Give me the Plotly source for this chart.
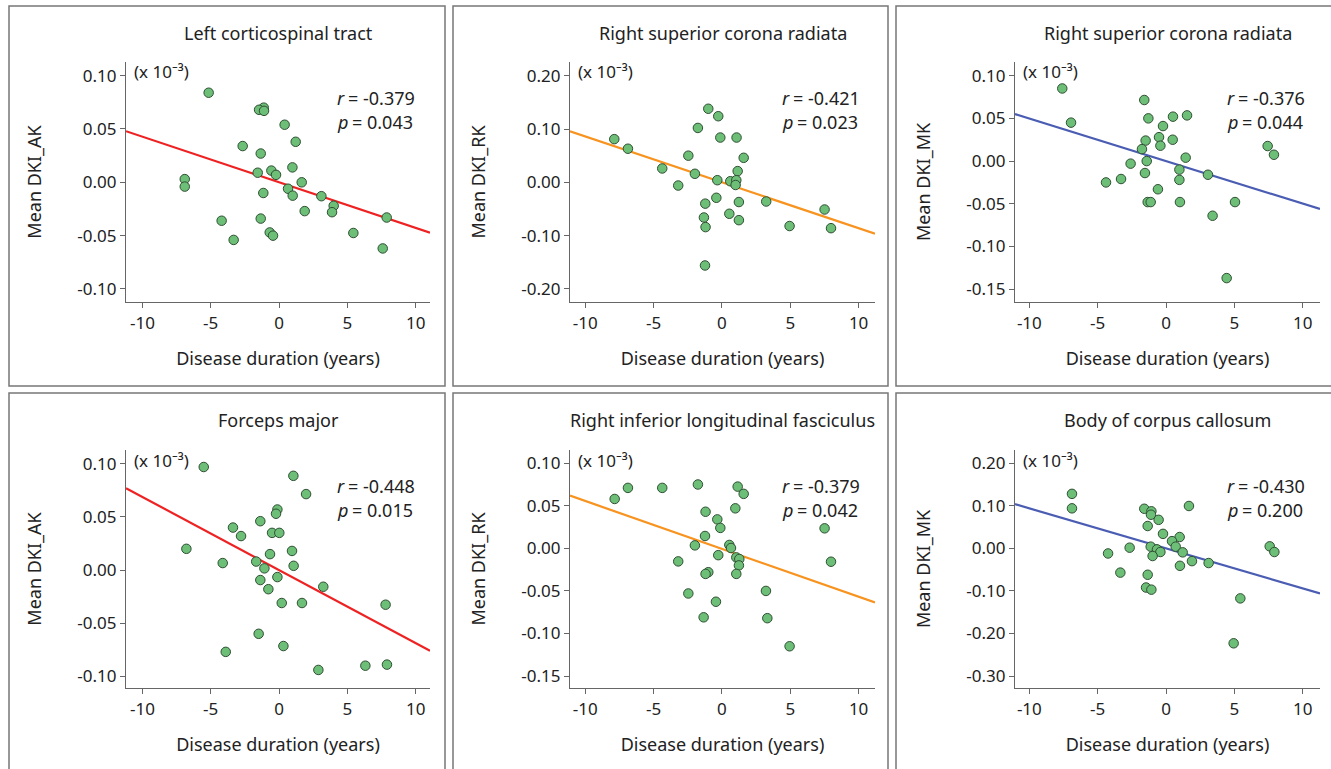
import plotly.graph_objects as go

W, H = 1331, 769

titles = ["Left corticospinal tract", "Right superior corona radiata", "Right superior corona radiata",
          "Forceps major", "Right inferior longitudinal fasciculus", "Body of corpus callosum"]
ylabels = ["Mean DKI_AK", "Mean DKI_RK", "Mean DKI_MK", "Mean DKI_AK", "Mean DKI_RK", "Mean DKI_MK"]
xlabel = "Disease duration (years)"
scale_label = "(x 10\u207b\u00b3)"
r_vals = ["-0.379", "-0.421", "-0.376", "-0.448", "-0.379", "-0.430"]
p_vals = ["0.043", "0.023", "0.044", "0.015", "0.042", "0.200"]

# Panel 1: Left corticospinal tract (AK)
x1 = [-5.15, -1.12, -1.46, -1.10, 0.41, 1.22, -2.66, -1.34, 0.98, -0.56, -1.56, -0.22, -6.9, -6.9, 1.66,
      -1.15, 0.66, 1.0, 3.1, 4.0, 3.88, 1.88, -4.2, -1.34, -0.68, -0.44, -3.32, 7.88, 5.44, 7.59]
y1 = [0.084, 0.070, 0.068, 0.067, 0.054, 0.038, 0.034, 0.027, 0.014, 0.011, 0.009, 0.007, 0.003, -0.004, 0.000,
      -0.010, -0.006, -0.0125, -0.013, -0.022, -0.028, -0.027, -0.036, -0.034, -0.047, -0.050, -0.054, -0.033, -0.0475, -0.062]

# Panel 2: Right superior corona radiata (RK)
x2 = [-7.88, -6.88, -1.0, -0.27, -1.76, -0.12, 1.07, -2.46, 1.59, -4.37, -1.98, 1.15, -0.34, 0.61, 1.05,
      1.0, -3.2, -0.41, -1.22, 1.24, 3.24, 0.54, -1.32, 1.24, -1.2, 4.95, 7.51, 7.98, -1.24]
y2 = [0.081, 0.063, 0.138, 0.124, 0.102, 0.084, 0.084, 0.050, 0.046, 0.026, 0.016, 0.021, 0.004, 0.002, 0.004,
      -0.005, -0.006, -0.029, -0.040, -0.037, -0.036, -0.059, -0.066, -0.071, -0.084, -0.082, -0.051, -0.086, -0.156]

# Panel 3: Right superior corona radiata (MK)
x3 = [-7.59, -6.95, -1.59, -1.29, 0.51, 1.54, -0.22, -0.51, 0.49, -1.49, -0.41, -1.76, -1.41, 1.44, -2.59,
      -1.54, 0.98, 3.07, 0.98, -3.29, -4.39, -0.59, -1.34, -1.12, 1.02, 5.05, 3.41, 7.44, 7.9, 4.44]
y3 = [0.085, 0.045, 0.0715, 0.050, 0.052, 0.0535, 0.041, 0.028, 0.025, 0.024, 0.018, 0.014, 0.000, 0.004, -0.003,
      -0.014, -0.010, -0.016, -0.022, -0.021, -0.025, -0.033, -0.048, -0.048, -0.048, -0.048, -0.064, 0.0176, 0.0074, -0.137]

# Panel 4: Forceps major (AK)
x4 = [-5.51, 1.05, 1.98, -0.12, -0.22, -1.37, -3.37, -2.78, -0.51, 0.02, -6.78, -0.66, 0.95, -4.12, -1.67,
      1.07, -1.07, -0.12, -1.37, -0.78, 3.24, 0.2, 1.68, 7.8, -1.49, -3.9, 0.32, 2.88, 6.32, 7.9]
y4 = [0.097, 0.0887, 0.0715, 0.057, 0.053, 0.046, 0.040, 0.032, 0.035, 0.035, 0.020, 0.015, 0.018, 0.0066, 0.008,
      0.004, 0.0016, -0.0066, -0.0094, -0.018, -0.0157, -0.031, -0.031, -0.0326, -0.060, -0.077, -0.0715, -0.094, -0.090, -0.089]

# Panel 5: Right inferior longitudinal fasciculus (RK)
x5 = [-7.85, -6.88, -4.37, -1.76, 1.15, 1.59, 0.98, -1.2, -0.34, -0.12, -1.24, -1.98, 0.54, 0.66, -0.27,
      -3.2, 1.05, 1.27, 1.24, -1.0, -1.2, 1.05, -2.46, -0.44, 3.22, -1.34, 3.32, 4.95, 7.51, 7.98]
y5 = [0.058, 0.071, 0.071, 0.075, 0.0725, 0.064, 0.047, 0.043, 0.034, 0.024, 0.0145, 0.0035, 0.004, 0.0004, -0.008,
      -0.0153, -0.0106, -0.0125, -0.020, -0.028, -0.030, -0.030, -0.053, -0.0627, -0.050, -0.081, -0.082, -0.115, 0.0235, -0.0157]

# Panel 6: Body of corpus callosum (MK)
x6 = [-6.88, -6.88, -1.59, -1.07, -1.1, -0.54, 1.68, -1.34, -0.22, 1.0, 0.44, 0.71, -2.66, -1.12, -0.66,
      -0.41, 1.22, -4.24, -0.98, 1.9, 3.12, 1.02, -3.34, -1.34, -1.46, -1.07, 5.44, 4.95, 7.59, 7.93]
y6 = [0.128, 0.094, 0.093, 0.087, 0.079, 0.067, 0.0995, 0.0525, 0.034, 0.0266, 0.017, 0.004, 0.0016, 0.004, -0.0024,
      -0.0086, -0.0094, -0.012, -0.018, -0.030, -0.0345, -0.041, -0.057, -0.062, -0.092, -0.097, -0.1175, -0.223, 0.0047, -0.0086]

xs = [x1, x2, x3, x4, x5, x6]
ys = [y1, y2, y3, y4, y5, y6]

# regression line coefficients (slope, intercept)
fit_slope = [-0.00428, -0.0086, -0.00498, -0.00688, -0.00562, -0.00939]
fit_icpt = [0.0, 0.0, 0.0, 0.0, -0.0006, 0.0]
line_colors = ["#ee2222", "#f7931e", "#4a5db3", "#ee2222", "#f7931e", "#4a5db3"]

y_ticks = [[0.10, 0.05, 0.00, -0.05, -0.10],
           [0.20, 0.10, 0.00, -0.10, -0.20],
           [0.10, 0.05, 0.00, -0.05, -0.10, -0.15],
           [0.10, 0.05, 0.00, -0.05, -0.10],
           [0.10, 0.05, 0.00, -0.05, -0.10, -0.15],
           [0.20, 0.10, 0.00, -0.10, -0.20, -0.30]]
y_ranges = [[-0.1122, 0.1128], [-0.2245, 0.2257], [-0.165, 0.116],
            [-0.111, 0.113], [-0.164, 0.1155], [-0.328, 0.231]]
x_ranges = [[-11.2, 11.05], [-11.12, 11.2], [-11.05, 11.27]]
x_ticks = [-10, -5, 0, 5, 10]

# layout geometry in pixels
col_px = [(126, 430), (570, 875), (1015, 1320)]
row_px = [(62, 302), (450, 688)]
box_x = [(9, 445), (453, 888), (896, 1345)]
box_y = [(6, 386), (393, 780)]
title_y = [33, 420]

FONT = "Noto Sans"
TXT = "#222222"
AX = "#666666"

fig = go.Figure()
layout = dict(width=W, height=H, margin=dict(l=0, r=0, t=0, b=0), paper_bgcolor="white",
              plot_bgcolor="white", showlegend=False, font=dict(family=FONT, size=17, color=TXT))
annotations = []
shapes = []


def ann(text, xpx, ypx, xanchor="center", yanchor="middle", size=18, style="normal"):
    return dict(text=text, x=xpx / W, y=1 - ypx / H, xref="paper", yref="paper",
                xanchor=xanchor, yanchor=yanchor, showarrow=False,
                font=dict(size=size, color=TXT, family=FONT, style=style))


for i in range(6):
    r, c = divmod(i, 3)
    n = i + 1
    xa = "x" if n == 1 else f"x{n}"
    ya = "y" if n == 1 else f"y{n}"
    xr = x_ranges[c]
    fig.add_trace(go.Scatter(x=[xr[0], xr[1]],
                             y=[fit_slope[i] * xr[0] + fit_icpt[i], fit_slope[i] * xr[1] + fit_icpt[i]],
                             mode="lines", line=dict(color=line_colors[i], width=2.2),
                             xaxis=xa, yaxis=ya, hoverinfo="skip"))
    fig.add_trace(go.Scatter(x=xs[i], y=ys[i], mode="markers",
                             marker=dict(size=9.5, color="#6dbf78", line=dict(color="#2f4f33", width=1)),
                             xaxis=xa, yaxis=ya))
    dx = [col_px[c][0] / W, col_px[c][1] / W]
    dy = [1 - row_px[r][1] / H, 1 - row_px[r][0] / H]
    xkey = "xaxis" if n == 1 else f"xaxis{n}"
    ykey = "yaxis" if n == 1 else f"yaxis{n}"
    layout[xkey] = dict(domain=dx, range=xr, anchor=ya, tickvals=x_ticks,
                        ticktext=[str(v) for v in x_ticks], showgrid=False, zeroline=False,
                        showline=True, linecolor=AX, linewidth=1.2, ticks="outside", ticklen=5,
                        tickcolor=AX, tickfont=dict(size=17, color=TXT, family=FONT),
                        title=dict(text=xlabel, standoff=19, font=dict(size=18, color=TXT, family=FONT)))
    layout[ykey] = dict(domain=dy, range=y_ranges[i], anchor=xa, tickvals=y_ticks[i],
                        ticktext=[f"{v:.2f}" for v in y_ticks[i]], showgrid=False, zeroline=False,
                        showline=True, linecolor=AX, linewidth=1.2, ticks="outside", ticklen=5,
                        tickcolor=AX, tickfont=dict(size=17, color=TXT, family=FONT),
                        title=dict(text=ylabels[i], standoff=30, font=dict(size=18, color=TXT, family=FONT)))
    cx = (col_px[c][0] + col_px[c][1]) / 2
    annotations.append(ann(titles[i], cx, title_y[r]))
    annotations.append(ann(scale_label, col_px[c][0] + 6, row_px[r][0] + 10, xanchor="left", size=17))
    lx = col_px[c][1] - 95
    annotations.append(ann("r", lx, row_px[r][0] + 36, xanchor="left", style="italic"))
    annotations.append(ann(f"= {r_vals[i]}", lx + 11, row_px[r][0] + 36, xanchor="left"))
    annotations.append(ann("p", lx, row_px[r][0] + 60, xanchor="left", style="italic"))
    annotations.append(ann(f"= {p_vals[i]}", lx + 15, row_px[r][0] + 60, xanchor="left"))
    shapes.append(dict(type="rect", xref="paper", yref="paper",
                       x0=box_x[c][0] / W, x1=box_x[c][1] / W,
                       y0=1 - box_y[r][1] / H, y1=1 - box_y[r][0] / H,
                       line=dict(color="#777777", width=1.5), fillcolor="rgba(0,0,0,0)", layer="below"))

layout["annotations"] = annotations
layout["shapes"] = shapes
fig.update_layout(**layout)
fig.write_html("out.html", config={"displayModeBar": False},
               post_script="document.body.style.margin='0';document.body.style.overflow='hidden';")
